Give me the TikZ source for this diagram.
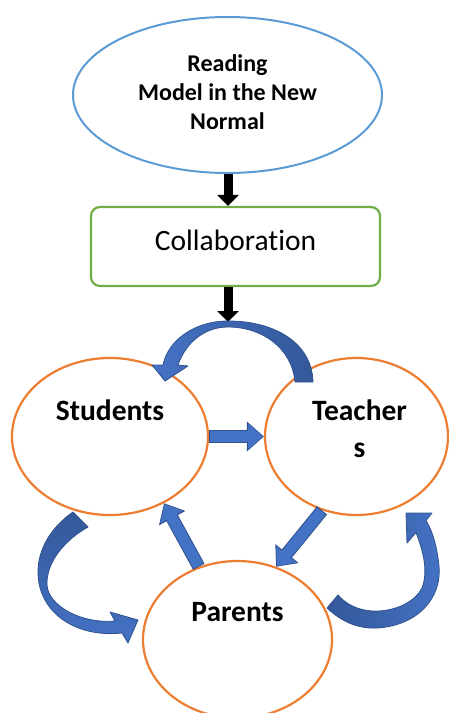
\documentclass[tikz,border=0pt]{standalone}
\usepackage{fontspec}
\setmainfont[Ligatures = NoCommon]{Carlito}
\usetikzlibrary{arrows.meta,shapes.geometric}
\definecolor{bordblue}{HTML}{5B9BD5}
\definecolor{bordgreen}{HTML}{70AD47}
\definecolor{bordorange}{HTML}{ED7D31}
\definecolor{arrowblue}{HTML}{4472C4}
\definecolor{arrowdark}{HTML}{2F528F}
\definecolor{arrowshade}{HTML}{34589A}
\tikzset{
    party/.style = {ellipse, draw = bordorange, line width = 2.2pt, minimum height = 157pt},
    partytext/.style = {font = \bfseries\fontsize{29.5}{37}\selectfont, align = center},
    blackarrow/.style = {line width = 9pt, -{Triangle[width = 21pt, length = 11pt]}},
    bluearrow/.style = {draw = arrowdark, line width = 13pt, -{Triangle[width = 29pt, length = 17pt]},
        postaction = {draw = arrowblue, line width = 11pt, -{Triangle[width = 25pt, length = 14.5pt]},
        shorten > = 1.2pt, shorten < = 1pt}},
    bendarrow/.style = {draw = arrowdark, line width = 0.8pt, line join = round}
}
\begin{document}
\begin{tikzpicture}[x = 1pt, y = -1pt]
    \useasboundingbox (0,0) rectangle (449,713);
    \node [ellipse, draw = bordblue, line width = 2pt, minimum width = 309pt, minimum height = 156pt,
        label = {[align = center, font = \bfseries\fontsize{24}{29}\selectfont, yshift = 2.5pt]center:Reading\\Model in the New\\Normal}]
        (model) at (227.5,95) {};
    \node [rectangle, rounded corners = 9pt, draw = bordgreen, line width = 2.2pt, minimum width = 289pt, minimum height = 79pt,
        label = {[font = \fontsize{29.5}{34}\selectfont, yshift = 6pt]center:Collaboration}] (collab) at (235.5,246.5) {};
    \coordinate (loop) at (228,322);
    \draw [blackarrow] (model.south -| loop) -- (collab.north -| loop);
    \draw [blackarrow] (collab.south -| loop) -- (loop);
    % the three parties
    \node [party, minimum width = 196pt, label = {[partytext, yshift = 26pt]center:Students}] (stud) at (110,436.5) {};
    \node [party, minimum width = 183pt, label = {[partytext, yshift = 8pt, xshift = 3pt]center:Teacher\\s}] (teach) at (356.5,436.5) {};
    \node [party, minimum width = 189pt, label = {[partytext, yshift = 27pt]center:Parents}] (par) at (237.5,639.5) {};
    \draw [bluearrow] (stud.east) -- (teach.west);
    \draw [bluearrow] (teach.245) -- (par.62);
    \draw [bluearrow] (par.118) -- (stud.309);
    % bent arrows
    \draw [bendarrow, left color = arrowblue, right color = arrowshade]
        (313,382) .. controls (312,343) and (275,321) .. (228,321)
        .. controls (195,321) and (168,340) .. (163,365) -- (152,365) -- (165,381) -- (188,366) -- (178,365)
        .. controls (186,342) and (205,327) .. (228,327) .. controls (262,327) and (292,348) .. (295,382) -- cycle;
    \draw [bendarrow, top color = arrowshade, bottom color = arrowblue]
        (73,512) .. controls (50,528) and (38,550) .. (38,572) .. controls (38,612) and (75,638) .. (122,633)
        -- (128,643) -- (138,620) -- (110,612) -- (115,621)
        .. controls (80,624) and (48,605) .. (47,585) .. controls (46,562) and (65,540) .. (88,527) -- cycle;
    \draw [bendarrow, left color = arrowshade, right color = arrowblue]
        (327,608) .. controls (342,622) and (358,629) .. (378,628) .. controls (418,625) and (442,598) .. (439,566)
        .. controls (437,547) and (433,532) .. (426,520.5) -- (432,513) -- (406,513) -- (407,543) -- (416,532.5)
        .. controls (424,553) and (428,572) .. (422,588) .. controls (413,605) and (390,612) .. (372,611)
        .. controls (357,610) and (346,604) .. (338,595) -- cycle;
\end{tikzpicture}
\end{document}
